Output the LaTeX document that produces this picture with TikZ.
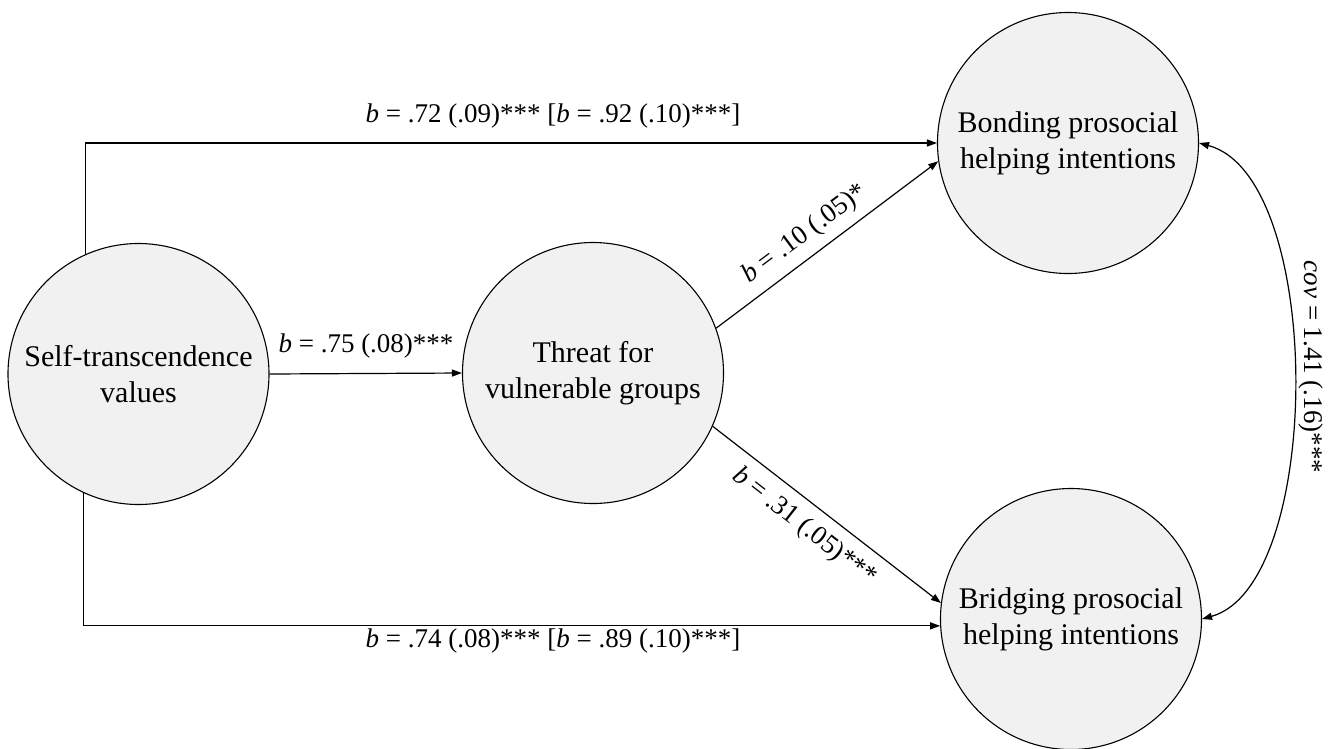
\documentclass[tikz,border=0pt]{standalone}
\usepackage{fontspec}
\setmainfont{Liberation Serif}
\usetikzlibrary{arrows.meta}
\definecolor{nodefill}{RGB}{241,241,241}
\begin{document}
\begin{tikzpicture}[x=1pt,y=-1pt,
  latent/.style={circle, draw=black, line width=1.1pt, fill=nodefill, minimum size=261pt, inner sep=0pt, align=center, font=\fontsize{30}{36}\selectfont},
  pathline/.style={line width=1.2pt, -{Triangle[length=10pt,width=7pt]}},
  covline/.style={line width=1.2pt, {Triangle[length=10pt,width=7pt]}-{Triangle[length=10pt,width=7pt]}},
  lab/.style={font=\fontsize{27}{32}\selectfont, inner sep=0pt}]
\useasboundingbox (0,0) rectangle (1336,748);

\node[latent] (self) at (138.5,374) {Self-transcendence\\values};
\node[latent] (threat) at (593,373) {Threat for\\vulnerable groups};
\node[latent] (bond) at (1068,143) {Bonding prosocial\\helping intentions};
\node[latent] (bridge) at (1071,619) {Bridging prosocial\\helping intentions};

\draw[pathline] (self.114.2) |- (bond.west);
\draw[pathline] (self.245.8) |- (bridge.183.5);
\draw[pathline] (self.east) -- (threat.west);
\draw[pathline] (threat.20.5) -- (bond.188.7);
\draw[pathline] (threat.-24.4) -- (bridge.173.2);
\draw[covline] (bond.east) .. controls +(126,34) and +(122,-34) .. (bridge.east);

\node[lab, anchor=base] (l1) at (553,122) {\textit{b} = .72 (.09)*** [\textit{b} = .92 (.10)***]};
\node[lab, anchor=base] (l2) at (553,647) {\textit{b} = .74 (.08)*** [\textit{b} = .89 (.10)***]};
\node[lab, anchor=base] (l3) at (366,352) {\textit{b} = .75 (.08)***};
\node[lab, rotate=36.6] (l4) at (805,234) {\textit{b} = .10 (.05)*};
\node[lab, rotate=-38] (l5) at (804,527) {\textit{b} = .31 (.05)***};
\node[lab, rotate=-90, anchor=south] (l6) at (1299,367) {\textit{cov} = 1.41 (.16)***};
\end{tikzpicture}
\end{document}
